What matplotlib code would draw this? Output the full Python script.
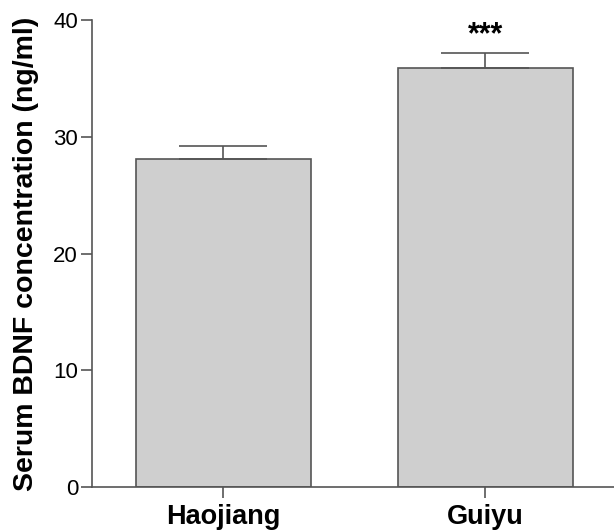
import numpy as np
import matplotlib
matplotlib.use("Agg")
import matplotlib.pyplot as plt

# data
groups = ["Haojiang", "Guiyu"]
means = [28.1, 35.9]
errors = [1.1, 1.3]
marks = ["", "***"]
yticks = [0, 10, 20, 30, 40]

plt.rcParams['font.family'] = ['Liberation Sans', 'DejaVu Sans']

fig = plt.figure(figsize=(6.14, 5.30), dpi=100)
ax = fig.add_axes([0.1498, 0.0811, 0.8502, 0.8806])

x = np.arange(len(groups))
ax.bar(x, means, width=0.667, color="#cfcfcf", edgecolor="#555555",
       linewidth=1.2, zorder=2)
ax.errorbar(x, means, yerr=[np.zeros(len(means)), errors], fmt="none",
            ecolor="#555555", elinewidth=1.2, capsize=32, capthick=1.2, zorder=3)

for xi, m, e, s in zip(x, means, errors, marks):
    if s:
        ax.text(xi, m + e + 0.2, s, ha="center", va="bottom",
                fontsize=22, fontweight="bold")

ax.set_xlim(-0.5, 1.49)
ax.set_ylim(0, 40)
ax.set_yticks(yticks)
ax.set_xticks(x)
ax.set_xticklabels(groups, fontsize=19.5, fontweight="bold")
ax.tick_params(axis="y", labelsize=16, length=8, width=1.2, color="#555555", pad=2)
ax.tick_params(axis="x", length=8, width=1.2, color="#555555", pad=4)
ax.set_ylabel("Serum BDNF concentration (ng/ml)", fontsize=20.5, fontweight="bold",
              labelpad=10)

for side in ["top", "right"]:
    ax.spines[side].set_visible(False)
for side in ["left", "bottom"]:
    ax.spines[side].set_color("#555555")
    ax.spines[side].set_linewidth(1.2)

fig.savefig("out.png", dpi=100)
